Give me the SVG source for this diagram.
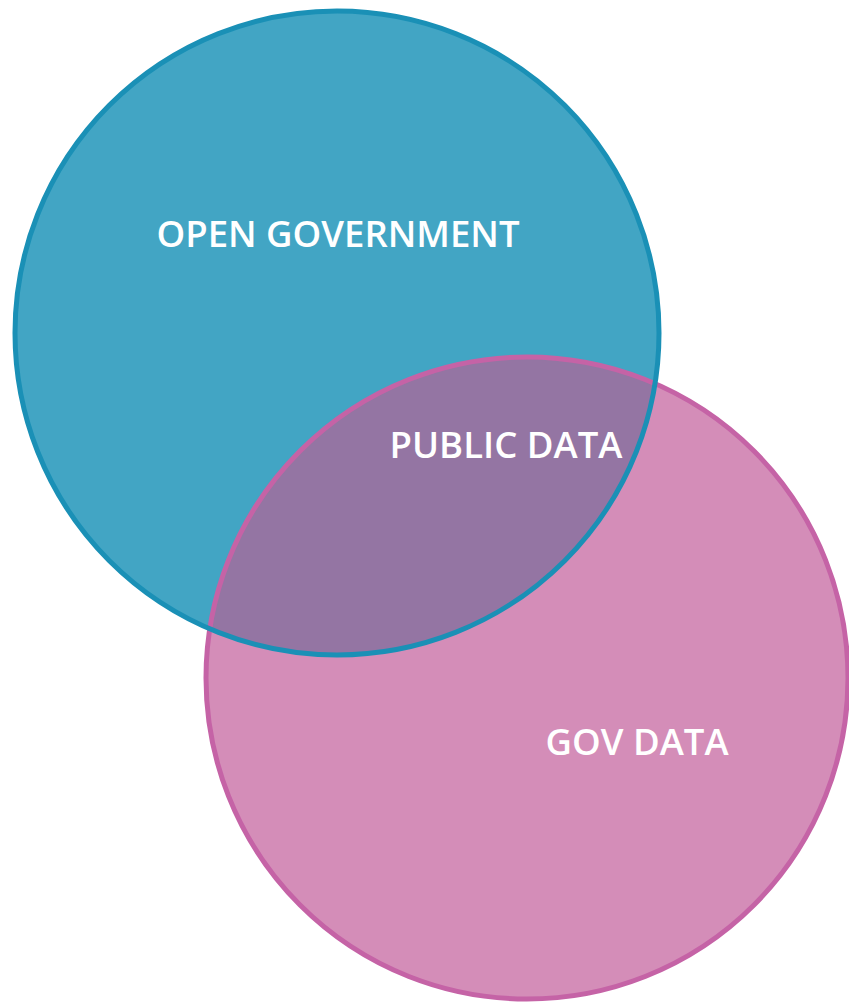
<svg xmlns="http://www.w3.org/2000/svg" width="849" height="1005" viewBox="0 0 849 1005">
<style>
.lbl{font-family:"Open Sans","Liberation Sans",sans-serif;font-weight:600;font-size:36.5px;fill:#ffffff;text-anchor:middle}
.ring-blue{fill:none;stroke:#1A90B6;stroke-width:5}
.ring-pink{fill:none;stroke:#C563A6;stroke-width:5}
</style>
<defs>
<clipPath id="blueClip"><circle cx="337" cy="333" r="322"/></clipPath>
</defs>
<rect width="849" height="1005" fill="#ffffff"/>
<g id="open-government">
<circle cx="337" cy="333" r="322" fill="#42A5C4"/>
<text class="lbl" x="338" y="247">OPEN GOVERNMENT</text>
</g>
<g id="gov-data">
<circle cx="527" cy="678" r="321" fill="#D48DB8"/>
<text class="lbl" x="637" y="755">GOV DATA</text>
</g>
<g id="public-data">
<circle cx="527" cy="678" r="321" fill="#9475A3" clip-path="url(#blueClip)"/>
<text class="lbl" x="506" y="458">PUBLIC DATA</text>
</g>
<g id="connectors">
<circle class="ring-pink" cx="527" cy="678" r="321"/>
<circle class="ring-blue" cx="337" cy="333" r="322"/>
</g>
</svg>
